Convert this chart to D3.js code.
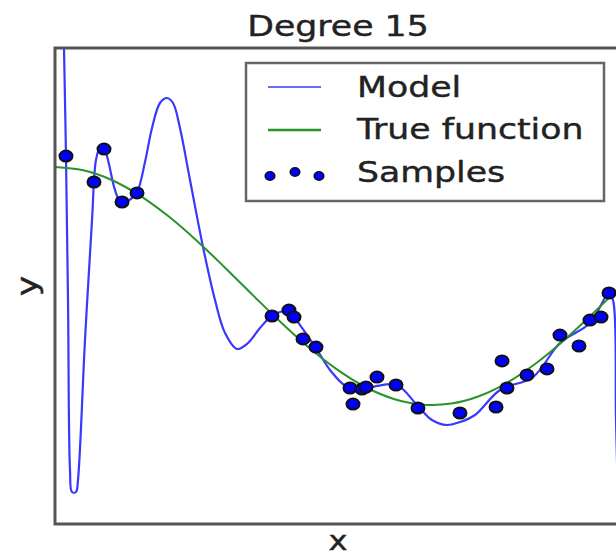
<!DOCTYPE html>
<meta charset="utf-8">
<style>
body { margin: 0; background: #fff; }
text { font-family: "DejaVu Sans", sans-serif; fill: #222; stroke: #222; stroke-width: 0.4px; }
</style>
<svg width="616" height="558"></svg>
<script src="https://cdn.jsdelivr.net/npm/d3@7"></script>
<script>

// samples
var sampleX = [0.0194, 0.0689, 0.0866, 0.1184, 0.1449, 0.3834, 0.4134, 0.4223, 0.4382, 0.4611,
               0.5212, 0.5265, 0.5424, 0.5495, 0.5689, 0.6025, 0.6413, 0.7155, 0.7792, 0.7898,
               0.7986, 0.8339, 0.8693, 0.8922, 0.9258, 0.9452, 0.9647, 0.9788];
var sampleY = [1.092, 0.874, 1.151, 0.706, 0.782, -0.252, -0.202, -0.261, -0.445, -0.513,
               -0.857, -0.992, -0.866, -0.849, -0.765, -0.832, -1.025, -1.067, -1.017, -0.630,
               -0.857, -0.748, -0.697, -0.412, -0.504, -0.286, -0.261, -0.059];

// true function
var trueX = [0, 0.05, 0.1, 0.15, 0.2, 0.25, 0.3, 0.35, 0.4, 0.45, 0.5,
             0.55, 0.6, 0.65, 0.7, 0.75, 0.8, 0.85, 0.9, 0.95, 1];
var trueY = [1, 0.972, 0.891, 0.760, 0.588, 0.383, 0.156, -0.079, -0.309, -0.523, -0.707,
             -0.853, -0.951, -0.997, -0.988, -0.924, -0.809, -0.649, -0.454, -0.233, 0];

// degree 15 model
var modelX = [0, 0.0159, 0.0194, 0.0230, 0.0265, 0.0300, 0.0371, 0.0406, 0.0530, 0.0654,
              0.0724, 0.0795, 0.0866, 0.0936, 0.1060, 0.1166, 0.1290, 0.1449, 0.1590, 0.1714,
              0.1855, 0.1979, 0.2085, 0.2208, 0.2385, 0.2615, 0.2827, 0.3004, 0.3216, 0.3410,
              0.3622, 0.3834, 0.4134, 0.4329, 0.4611, 0.4859, 0.5159, 0.5442, 0.5689, 0.6042,
              0.6396, 0.6661, 0.6926, 0.7155, 0.7420, 0.7862, 0.8445, 0.8922, 0.9452, 0.9788,
              0.9859, 0.9912, 0.9965, 1];
var modelY = [5.76, 2.0, 1.092, -0.118, -1.546, -1.731, -1.731, -1.630, -0.454, 0.555,
              1.059, 1.160, 1.160, 1.059, 0.807, 0.697, 0.714, 0.790, 1.042, 1.328,
              1.538, 1.580, 1.538, 1.328, 0.891, 0.328, -0.118, -0.395, -0.529, -0.479,
              -0.353, -0.252, -0.210, -0.328, -0.521, -0.706, -0.849, -0.874, -0.840, -0.832,
              -1.000, -1.126, -1.168, -1.143, -1.084, -0.874, -0.765, -0.479, -0.311, -0.059,
              -0.118, -1.126, -2.303, -5.16];

var svg = d3.select("svg"),
    margin = {top: 48, right: -5, bottom: 34, left: 55},
    width = +svg.attr("width") - margin.left - margin.right,
    height = +svg.attr("height") - margin.top - margin.bottom;

var x = d3.scaleLinear().domain([0, 1]).range([0, width]),
    y = d3.scaleLinear().domain([-2, 2]).range([height, 0]);

var g = svg.append("g")
    .attr("transform", "translate(" + margin.left + "," + margin.top + ")");

g.append("clipPath").attr("id", "clip")
  .append("rect").attr("width", width).attr("height", height);

var line = d3.line()
    .x(function(d) { return x(d[0]); })
    .y(function(d) { return y(d[1]); })
    .curve(d3.curveCatmullRom.alpha(0.5));

var plot = g.append("g").attr("clip-path", "url(#clip)");

plot.append("path")
    .datum(d3.zip(modelX, modelY))
    .attr("fill", "none")
    .attr("stroke", "#3838ff")
    .attr("stroke-width", 2.2)
    .attr("d", line);

plot.append("path")
    .datum(d3.zip(trueX, trueY))
    .attr("fill", "none")
    .attr("stroke", "#2a922a")
    .attr("stroke-width", 2)
    .attr("d", line);

plot.selectAll(".dot")
  .data(d3.zip(sampleX, sampleY))
  .enter().append("ellipse")
    .attr("class", "dot")
    .attr("cx", function(d) { return x(d[0]); })
    .attr("cy", function(d) { return y(d[1]); })
    .attr("rx", 6.5)
    .attr("ry", 5.5)
    .attr("fill", "#0000ff")
    .attr("stroke", "#111")
    .attr("stroke-width", 2);

// axes frame (no ticks)
g.append("rect")
    .attr("width", width)
    .attr("height", height)
    .attr("fill", "none")
    .attr("stroke", "#555")
    .attr("stroke-width", 3);

function label(px, py, str, anchor, rot) {
  return svg.append("text")
      .attr("transform", "translate(" + px + "," + py + ")" + (rot ? " rotate(" + rot + ")" : "") + " scale(1.24,1)")
      .attr("text-anchor", anchor)
      .style("font-size", "28px")
      .text(str);
}

label(338, 36, "Degree 15", "middle");
label(338, 550, "x", "middle").style("font-size", "26px");
label(37, 286, "y", "middle", -90);

// legend
var leg = svg.append("g");
leg.append("rect")
    .attr("x", 246).attr("y", 63)
    .attr("width", 358).attr("height", 138)
    .attr("fill", "#fff")
    .attr("stroke", "#666")
    .attr("stroke-width", 2.5);

leg.append("line").attr("x1", 268).attr("x2", 321).attr("y1", 87).attr("y2", 87)
    .attr("stroke", "#6a6aff").attr("stroke-width", 2);
leg.append("line").attr("x1", 268).attr("x2", 321).attr("y1", 130).attr("y2", 130)
    .attr("stroke", "#2a922a").attr("stroke-width", 2.4);
[[270, 176], [295, 172], [319, 176]].forEach(function(p) {
  leg.append("ellipse").attr("cx", p[0]).attr("cy", p[1]).attr("rx", 4.8).attr("ry", 4.2)
      .attr("fill", "#0000ff").attr("stroke", "#111").attr("stroke-width", 1.5);
});

label(357, 97, "Model", "start");
label(357, 139, "True function", "start");
label(357, 182, "Samples", "start");

</script>
